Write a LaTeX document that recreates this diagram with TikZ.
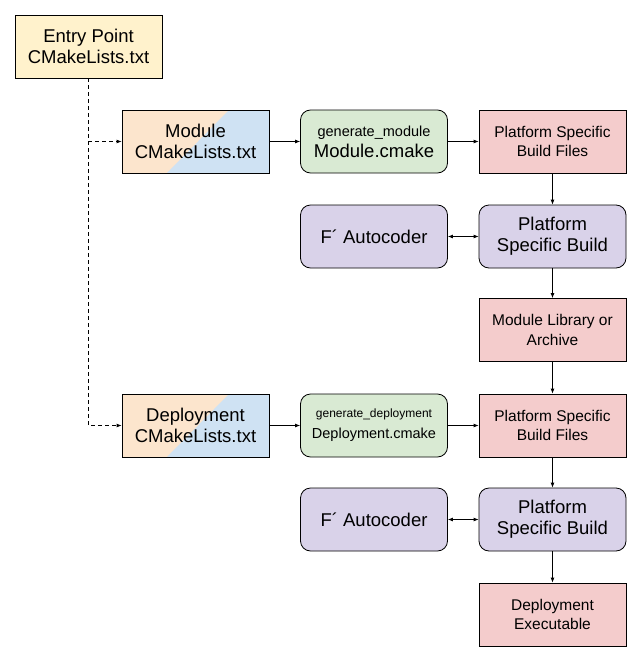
\documentclass[tikz,border=0pt]{standalone}
\usepackage{fontspec}
\setmainfont{Liberation Sans}
\usetikzlibrary{positioning,calc,arrows.meta}

\definecolor{entryyellow}{HTML}{FFF2CC}
\definecolor{cmorange}{HTML}{FCE5CD}
\definecolor{cmblue}{HTML}{CFE2F3}
\definecolor{gengreen}{HTML}{D9EAD3}
\definecolor{buildred}{HTML}{F4CCCC}
\definecolor{buildpurple}{HTML}{D9D2E9}

\tikzset{
  box/.style={draw, line width=0.8pt, minimum width=147pt, minimum height=63pt,
    inner sep=0pt, align=center, font=\fontsize{18.5}{21}\selectfont},
  entrybox/.style={box, fill=entryyellow},
  cmakebox/.style={box, fill=cmorange, path picture={
      \fill[cmblue] ($(path picture bounding box.south west)+(45pt,0)$)
        -- ($(path picture bounding box.north west)+(107pt,0)$)
        -- (path picture bounding box.north east)
        -- (path picture bounding box.south east) -- cycle;}},
  genbox/.style={box, fill=gengreen, rounded corners=10pt},
  filebox/.style={box, fill=buildred, font=\fontsize{15.5}{19.5}\selectfont},
  buildbox/.style={box, fill=buildpurple, rounded corners=10pt},
  flow/.style={line width=0.8pt, -{Latex[length=5pt,width=4pt]}},
  both/.style={line width=0.8pt, {Latex[length=5pt,width=4pt]}-{Latex[length=5pt,width=4pt]}},
  call/.style={flow, dash pattern=on 4pt off 3pt}
}

\begin{document}
\begin{tikzpicture}[x=1pt, y=-1pt]
    \useasboundingbox (0,0) rectangle (642,661);

    % Entry point
    \node[entrybox] (entry) at (88.5,46.5) {Entry Point\\CMakeLists.txt};

    % Module chain
    \node[cmakebox] (modcm) at (195.5,141.5) {Module\\CMakeLists.txt};
    \node[genbox] (genmod) at (374,141.5)
        {{\fontsize{14.5}{18}\selectfont generate\_module}\\Module.cmake};
    \node[filebox] (modfiles) at (552.5,141.5) {Platform Specific\\Build Files};
    \node[buildbox] (modbuild) at (552.5,236.5) {Platform\\Specific Build};
    \node[buildbox] (modauto) at (374,236.5) {F´ Autocoder};
    \node[filebox] (modlib) at (552.5,330) {Module Library or\\Archive};

    % Deployment chain
    \node[cmakebox] (depcm) at (195.5,425.5) {Deployment\\CMakeLists.txt};
    \node[genbox] (gendep) at (374,425.5)
        {\fontsize{12}{16}\selectfont generate\_deployment\\
         \fontsize{14.5}{17}\selectfont Deployment.cmake};
    \node[filebox] (depfiles) at (552.5,425.5) {Platform Specific\\Build Files};
    \node[buildbox] (depbuild) at (552.5,519.5) {Platform\\Specific Build};
    \node[buildbox] (depauto) at (374,519.5) {F´ Autocoder};
    \node[filebox] (depexe) at (552.5,614.5) {Deployment\\Executable};

    % Calls from the entry point
    \draw[call] (entry.south) |- (modcm.west);
    \draw[call] (entry.south) |- (depcm.west);

    % Module flow
    \draw[flow] (modcm) -- (genmod);
    \draw[flow] (genmod) -- (modfiles);
    \draw[flow] (modfiles) -- (modbuild);
    \draw[both] (modauto) -- (modbuild);
    \draw[flow] (modbuild) -- (modlib);
    \draw[flow] (modlib) -- (depfiles);

    % Deployment flow
    \draw[flow] (depcm) -- (gendep);
    \draw[flow] (gendep) -- (depfiles);
    \draw[flow] (depfiles) -- (depbuild);
    \draw[both] (depauto) -- (depbuild);
    \draw[flow] (depbuild) -- (depexe);
\end{tikzpicture}
\end{document}
